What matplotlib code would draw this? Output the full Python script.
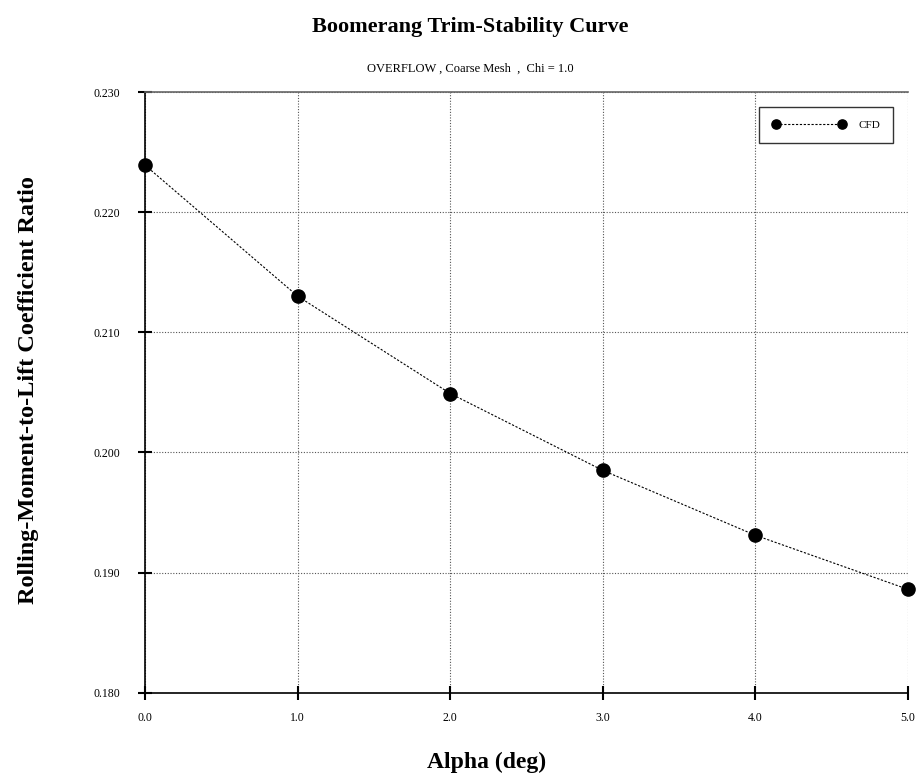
import matplotlib
matplotlib.use("Agg")
import matplotlib.pyplot as plt
import numpy as np

plt.rcParams['font.family'] = ['Liberation Serif', 'DejaVu Serif']

# data
alpha = [0.0, 1.0, 2.0, 3.0, 4.0, 5.0]
ratio = [0.2239, 0.2130, 0.2049, 0.1985, 0.1931, 0.1886]
xticks = [0.0, 1.0, 2.0, 3.0, 4.0, 5.0]
yticks = [0.180, 0.190, 0.200, 0.210, 0.220, 0.230]

fig = plt.figure(figsize=(9.19, 7.8), dpi=100)
ax = fig.add_axes([0.158, 0.112, 0.830, 0.770])

ax.plot(alpha, ratio, color='black', linestyle=(0, (2, 1.5)), linewidth=0.8,
        marker='o', markersize=9.5, label='CFD', clip_on=False, zorder=5)

ax.set_xlim(0.0, 5.0)
ax.set_ylim(0.180, 0.230)
ax.set_xticks(xticks)
ax.set_yticks(yticks)
ax.set_xticklabels(['%.1f' % v for v in xticks], fontsize=8.5)
ax.set_yticklabels(['%.3f' % v for v in yticks], fontsize=8.5)
ax.tick_params(axis='y', direction='inout', length=10, width=1.5, pad=13)
ax.tick_params(axis='x', direction='inout', length=10, width=1.5, pad=9)

ax.grid(True, color='#555555', linestyle=(0, (1, 1.5)), linewidth=0.8)
for s in ['left', 'bottom']:
    ax.spines[s].set_color('black')
    ax.spines[s].set_linewidth(1.2)
ax.spines['top'].set_color('#666666')
ax.spines['top'].set_linewidth(1.2)
ax.spines['right'].set_visible(False)

leg = ax.legend(loc='upper right', numpoints=2, fontsize=8, frameon=True,
                fancybox=False, edgecolor='black', handlelength=6.5,
                markerscale=0.7, borderpad=1.2, handletextpad=1.2,
                borderaxespad=0, bbox_to_anchor=(0.981, 0.975))
leg.get_frame().set_linewidth(1.0)

fig.text(0.512, 0.966, 'Boomerang Trim-Stability Curve', ha='center',
         va='center', fontsize=16, fontweight='bold')
fig.text(0.512, 0.912, 'OVERFLOW , Coarse Mesh  ,  Chi = 1.0', ha='center',
         va='center', fontsize=9)
fig.text(0.529, 0.023, 'Alpha (deg)', ha='center', va='center',
         fontsize=17, fontweight='bold')
fig.text(0.031, 0.5, 'Rolling-Moment-to-Lift Coefficient Ratio', ha='center',
         va='center', rotation=90, fontsize=17.5, fontweight='bold')

fig.savefig('out.png', dpi=100)
